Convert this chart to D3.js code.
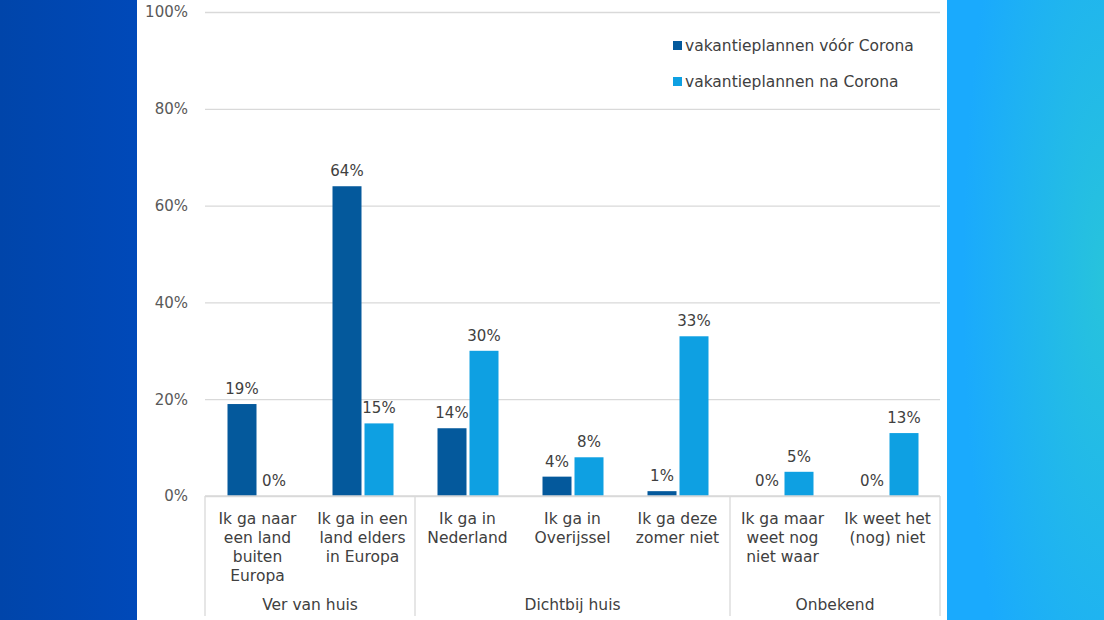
<!DOCTYPE html>
<html><head><meta charset="utf-8">
<script src="https://cdn.jsdelivr.net/npm/d3@7"></script>
<style>
html,body{margin:0;padding:0;width:1104px;height:620px;overflow:hidden;}
svg{display:block;}
text{font-family:"DejaVu Sans",Verdana,sans-serif;}
</style></head>
<body>
<svg id="c" width="1104" height="620"></svg>
<script>
const categories = [
  ["Ik ga naar","een land","buiten","Europa"],
  ["Ik ga in een","land elders","in Europa"],
  ["Ik ga in","Nederland"],
  ["Ik ga in","Overijssel"],
  ["Ik ga deze","zomer niet"],
  ["Ik ga maar","weet nog","niet waar"],
  ["Ik weet het","(nog) niet"]
];
const groups = [
  {name:"Ver van huis", from:0, to:1},
  {name:"Dichtbij huis", from:2, to:4},
  {name:"Onbekend", from:5, to:6}
];
const seriesNames = ["vakantieplannen vóór Corona","vakantieplannen na Corona"];
const before = [19, 64, 14, 4, 1, 0, 0];
const after  = [0, 15, 30, 8, 33, 5, 13];
const yTicks = [0, 20, 40, 60, 80, 100];
const colors = ["#04599c", "#0ea0e2"];

const svg = d3.select("#c");
const defs = svg.append("defs");
const lg = defs.append("linearGradient").attr("id","lgL").attr("x1","0").attr("x2","1").attr("y1","0").attr("y2","0");
lg.append("stop").attr("offset","0").attr("stop-color","#0045aa");
lg.append("stop").attr("offset","1").attr("stop-color","#0049b9");
const rg = defs.append("radialGradient").attr("id","rgR").attr("cx","1").attr("cy","0.45").attr("r","0.9");
rg.append("stop").attr("offset","0").attr("stop-color","#27c3dc");
rg.append("stop").attr("offset","1").attr("stop-color","#1aaafd");

svg.append("rect").attr("x",0).attr("y",0).attr("width",138).attr("height",620).attr("fill","url(#lgL)");
svg.append("rect").attr("x",137).attr("y",0).attr("width",810).attr("height",620).attr("fill","#ffffff");
svg.append("rect").attr("x",947).attr("y",0).attr("width",157).attr("height",620).attr("fill","url(#rgR)");

const x0 = 205, x1 = 940, yBase = 496, yTop = 12;
const x = d3.scaleBand().domain(d3.range(categories.length)).range([x0, x1]);
const y = d3.scaleLinear().domain([0, 100]).range([yBase, yTop]);
const barW = 29, gap = 3;
const fsNum = "15px", fsTxt = "15.5px";

const g = svg.append("g");
const yAxis = d3.axisLeft(y).tickValues(yTicks).tickFormat(d => d + "%").tickSize(-(x1 - x0)).tickPadding(17);
const ya = g.append("g").attr("transform", `translate(${x0},0)`).call(yAxis);
ya.select(".domain").remove();
ya.selectAll(".tick line").attr("stroke", "#d9d9d9").attr("stroke-width", 1.3);
ya.selectAll(".tick text").attr("fill", "#595959").style("font-size", fsNum).style("font-family", '"DejaVu Sans",Verdana,sans-serif');

const data = [before, after];
data.forEach((vals, si) => {
  g.selectAll(null).data(vals).enter().append("rect")
    .attr("x", (d, i) => x(i) + x.bandwidth() / 2 + (si === 0 ? -barW - gap / 2 + 0.5 : gap / 2 + 0.5))
    .attr("y", d => y(d))
    .attr("width", barW)
    .attr("height", d => yBase - y(d))
    .attr("fill", colors[si]);
  g.selectAll(null).data(vals).enter().append("text")
    .attr("x", (d, i) => x(i) + x.bandwidth() / 2 + (si === 0 ? -barW / 2 - gap / 2 : barW / 2 + gap / 2) + 0.5)
    .attr("y", d => y(d) - 10)
    .attr("text-anchor", "middle")
    .attr("fill", "#404040")
    .style("font-size", fsNum)
    .text(d => d + "%");
});

g.append("line").attr("x1", x0).attr("x2", x1).attr("y1", yBase).attr("y2", yBase).attr("stroke", "#d9d9d9").attr("stroke-width", 1.3);

categories.forEach((lines, i) => {
  const t = g.append("text").attr("text-anchor", "middle").attr("fill", "#404040").style("font-size", fsTxt);
  lines.forEach((ln, k) => {
    t.append("tspan").attr("x", x(i) + x.bandwidth() / 2).attr("y", 524 + k * 19).text(ln);
  });
});

const sepX = [x0].concat(groups.map(gr => x(gr.to) + x.bandwidth()));
sepX.forEach(sx => {
  g.append("line").attr("x1", sx).attr("x2", sx).attr("y1", yBase).attr("y2", 616).attr("stroke", "#d9d9d9").attr("stroke-width", 1.3);
});
groups.forEach(gr => {
  const cx = (x(gr.from) + x(gr.to) + x.bandwidth()) / 2;
  g.append("text").attr("x", cx).attr("y", 610).attr("text-anchor", "middle").attr("fill", "#404040").style("font-size", fsTxt).text(gr.name);
});

seriesNames.forEach((nm, i) => {
  const ly = 46 + i * 36;
  g.append("rect").attr("x", 673).attr("y", ly - 5).attr("width", 9).attr("height", 9).attr("fill", colors[i]);
  g.append("text").attr("x", 685).attr("y", ly + 5).attr("fill", "#404040").style("font-size", fsTxt).text(nm);
});
</script>
</body></html>
